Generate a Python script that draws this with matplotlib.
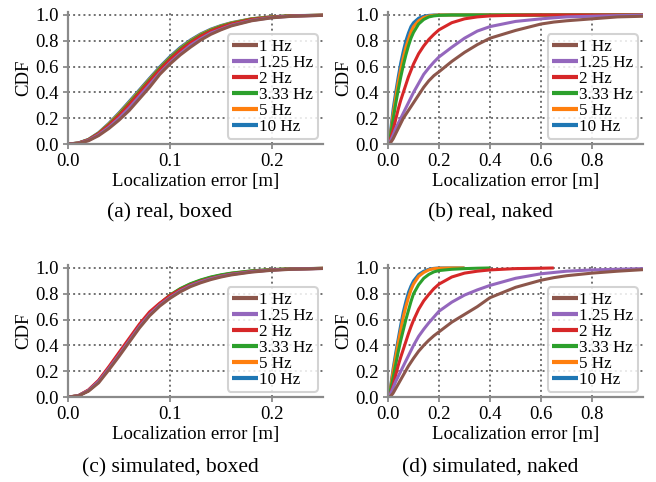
import numpy as np
import matplotlib
matplotlib.use("Agg")
import matplotlib.pyplot as plt

nan = np.nan

rates = ["1 Hz", "1.25 Hz", "2 Hz", "3.33 Hz", "5 Hz", "10 Hz"]
colors = ["#8c564b", "#9467bd", "#d62728", "#2ca02c", "#ff7f0e", "#1f77b4"]

# boxed panels share one error grid [m]
err_boxed = [0, .01, .02, .03, .04, .05, .06, .07, .08, .09, .10, .11, .12,
             .13, .14, .15, .16, .18, .20, .22, .25]

# (a) real, boxed -- rows: 1, 1.25, 2, 3.33, 5, 10 Hz
real_boxed = [
    [0, .005, .025, .065, .12, .185, .26, .35, .44, .54, .62, .69, .75, .805, .85, .885, .915, .955, .978, .99, .997],
    [0, .006, .028, .072, .13, .20, .28, .37, .46, .55, .63, .70, .765, .815, .86, .89, .92, .958, .98, .991, .997],
    [0, .007, .032, .08, .145, .22, .305, .395, .485, .575, .655, .725, .785, .835, .875, .905, .93, .965, .983, .993, .998],
    [0, .007, .033, .082, .15, .228, .315, .405, .495, .585, .665, .735, .795, .843, .882, .912, .935, .968, .985, .994, .998],
    [0, .007, .034, .085, .155, .235, .322, .412, .502, .59, .67, .74, .80, .848, .886, .915, .938, .97, .986, .994, .998],
    [0, .008, .036, .088, .16, .242, .33, .42, .51, .598, .678, .748, .806, .853, .89, .918, .94, .971, .986, .995, .998],
]

# (c) simulated, boxed
sim_boxed = [
    [0, .008, .045, .11, .21, .315, .425, .535, .63, .705, .765, .815, .855, .885, .91, .93, .946, .968, .982, .99, .996],
    [0, .009, .05, .12, .22, .325, .435, .545, .64, .713, .772, .822, .862, .892, .916, .935, .95, .971, .984, .991, .996],
    [0, .01, .055, .13, .235, .345, .455, .565, .66, .728, .787, .832, .868, .897, .92, .938, .953, .973, .985, .992, .997],
    [0, .009, .05, .122, .225, .333, .443, .553, .648, .722, .79, .84, .878, .907, .93, .947, .96, .978, .988, .994, .997],
    [0, .009, .05, .123, .226, .334, .444, .554, .649, .722, .789, .837, .875, .904, .927, .944, .958, .976, .987, .993, .997],
    [0, .009, .05, .122, .225, .333, .443, .552, .647, .72, .787, .835, .873, .902, .925, .943, .957, .975, .986, .993, .997],
]

# naked panels share one error grid [m]
err_naked = [0, .01, .02, .03, .04, .05, .06, .07, .08, .09, .10, .12, .14,
             .16, .18, .20, .25, .30, .35, .40, .50, .60, .65, .70, .80, .90, 1.0]

# (b) real, naked
real_naked = [
    [0, .01, .04, .08, .12, .16, .20, .23, .26, .29, .32, .38, .44, .49, .53, .56, .64, .71, .77, .82, .88, .93, .945, .955, .97, .985, .99],
    [0, .025, .07, .12, .16, .20, .24, .28, .32, .36, .40, .47, .54, .59, .635, .675, .75, .82, .875, .91, .95, .97, .978, .985, .99, .995, .998],
    [0, .04, .11, .19, .27, .34, .40, .46, .52, .57, .62, .70, .76, .81, .85, .885, .94, .97, .985, .993, .998, 1, 1, 1, 1, 1, 1],
    [0, .07, .19, .31, .42, .52, .61, .69, .76, .82, .865, .93, .965, .985, .993, .997, 1, 1, 1, 1, 1, 1, 1, 1, 1, 1, 1],
    [0, .08, .23, .36, .48, .58, .67, .75, .81, .87, .91, .955, .98, .992, .997, 1, 1, 1, 1, 1, 1, 1, 1, 1, 1, 1, 1],
    [0, .10, .27, .40, .52, .63, .72, .80, .86, .91, .94, .975, .99, .997, 1, 1, 1, 1, 1, 1, 1, 1, 1, 1, 1, 1, 1],
]

# (d) simulated, naked (faster rates have no samples beyond their max error)
sim_naked = [
    [0, .005, .03, .065, .10, .135, .17, .205, .24, .27, .30, .355, .40, .44, .475, .505, .58, .64, .70, .77, .85, .905, .925, .94, .96, .975, .987],
    [0, .025, .07, .12, .16, .20, .24, .28, .32, .36, .40, .47, .525, .575, .62, .665, .735, .79, .83, .865, .92, .955, .965, .975, .985, .99, .995],
    [0, .03, .09, .17, .245, .31, .37, .43, .49, .545, .595, .68, .745, .795, .84, .875, .93, .96, .975, .985, .995, .998, 1, nan, nan, nan, nan],
    [0, .06, .15, .25, .35, .44, .52, .60, .67, .74, .80, .87, .92, .95, .97, .98, .99, .995, .998, 1, nan, nan, nan, nan, nan, nan, nan],
    [0, .07, .20, .31, .42, .52, .62, .70, .77, .83, .875, .935, .965, .985, .995, .998, 1, 1, nan, nan, nan, nan, nan, nan, nan, nan, nan],
    [0, .08, .22, .34, .45, .56, .66, .74, .81, .86, .90, .95, .975, .99, .997, 1, 1, 1, nan, nan, nan, nan, nan, nan, nan, nan, nan],
]

panels = [
    ("(a) real, boxed", err_boxed, real_boxed, 0.25, [0, .1, .2]),
    ("(b) real, naked", err_naked, real_naked, 1.0, [0, .2, .4, .6, .8]),
    ("(c) simulated, boxed", err_boxed, sim_boxed, 0.25, [0, .1, .2]),
    ("(d) simulated, naked", err_naked, sim_naked, 1.0, [0, .2, .4, .6, .8]),
]

plt.rcParams["font.family"] = ["Liberation Serif", "DejaVu Serif"]
plt.rcParams["font.size"] = 13.5

fig = plt.figure(figsize=(6.56, 4.82), dpi=100)

rects = [
    [0.1037, 0.7012, 0.3887, 0.2731],
    [0.5915, 0.7012, 0.3887, 0.2731],
    [0.1037, 0.1763, 0.3887, 0.2731],
    [0.5915, 0.1763, 0.3887, 0.2731],
]
caption_pos = [(0.259, 0.558), (0.747, 0.558), (0.259, 0.029), (0.747, 0.029)]

spine_gray = "#8a8a8a"

for (caption, err, cdfs, xmax, xt), rect, cpos in zip(panels, rects, caption_pos):
    ax = fig.add_axes(rect)
    handles = []
    # draw fastest rate first so 1 Hz ends up on top
    for label, col, cdf in reversed(list(zip(rates, colors, cdfs))):
        h, = ax.plot(err, cdf, color=col, lw=2.2, label=label, solid_capstyle="butt")
        handles.append(h)
    handles = handles[::-1]

    ax.set_xlim(0, xmax)
    ax.set_ylim(0, 1.02)
    ax.set_xticks(xt)
    ax.set_yticks([0, .2, .4, .6, .8, 1.0])
    ax.xaxis.set_major_formatter(matplotlib.ticker.FormatStrFormatter("%.1f"))
    ax.yaxis.set_major_formatter(matplotlib.ticker.FormatStrFormatter("%.1f"))
    ax.grid(True, ls=":", color="#707070", lw=1.4)
    ax.set_axisbelow(True)
    for s in ["top", "right"]:
        ax.spines[s].set_visible(False)
    for s in ["left", "bottom"]:
        ax.spines[s].set_color(spine_gray)
        ax.spines[s].set_linewidth(1.6)
    ax.tick_params(colors=spine_gray, labelcolor="black", width=1.3, length=3.5, pad=3)
    ax.set_xlabel("Localization error [m]", labelpad=2)
    ax.set_ylabel("CDF", labelpad=2)

    leg = ax.legend(handles, rates, loc="lower right", fontsize=12.3,
                    labelspacing=0.0, handlelength=1.5, handletextpad=0.1,
                    borderpad=0.25, borderaxespad=0.3, framealpha=0.85)
    leg.get_frame().set_edgecolor("#cccccc")
    leg.get_frame().set_linewidth(1.5)
    for line in leg.get_lines():
        line.set_linewidth(3)

    fig.text(cpos[0], cpos[1], caption, ha="center", va="center", fontsize=15.5)

fig.savefig("out.png", dpi=100)
